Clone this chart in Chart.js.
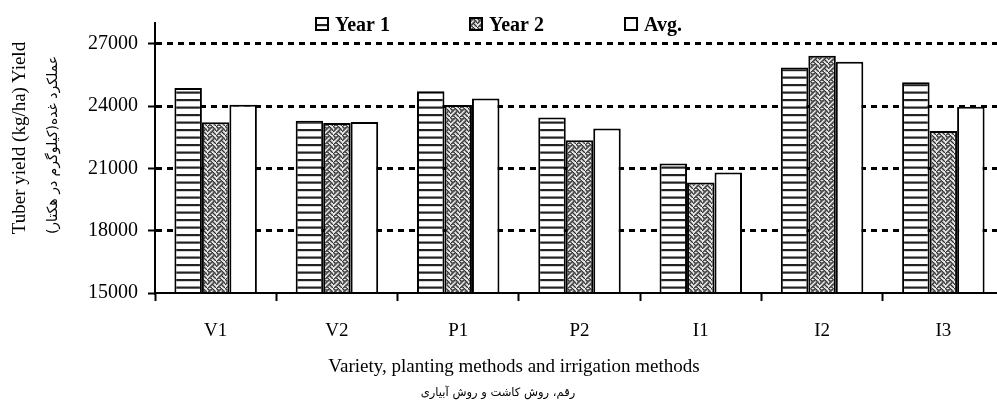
<!DOCTYPE html>
<html>
<head>
<meta charset="utf-8">
<script src="https://cdn.jsdelivr.net/npm/chart.js@4"></script>
<style>
  body { margin: 0; overflow: hidden; background: #fff; }
  #wrap { position: relative; width: 1010px; height: 408px; }
  .lbl { position: absolute; white-space: nowrap; color: #000; transform: translate(-50%, -50%); }
  .en { font-family: "Liberation Serif", serif; font-size: 19px; }
  .fa { font-family: "DejaVu Sans", sans-serif; font-size: 11.5px; direction: rtl; }
  .rot { transform: translate(-50%, -50%) rotate(-90deg); }
</style>
</head>
<body>
<div id="wrap">
  <canvas id="chart" width="1010" height="408"></canvas>
  <div class="lbl en rot" style="left:19px; top:138px;">Tuber yield (kg/ha) Yield</div>
  <div class="lbl fa rot" style="left:52px; top:145px; font-size:14px;">عملکرد غده(کیلوگرم در هکتار)</div>
  <div class="lbl en" style="left:514px; top:366px;">Variety, planting methods and irrigation methods</div>
  <div class="lbl fa" style="left:498px; top:392px;">رقم، روش کاشت و روش آبیاری</div>
</div>
<script>
// data
const categories = ['V1', 'V2', 'P1', 'P2', 'I1', 'I2', 'I3'];
const year1 = [24870, 23290, 24710, 23450, 21230, 25860, 25150];
const year2 = [23220, 23180, 24050, 22350, 20320, 26420, 22800];
const avg = [24060, 23230, 24360, 22920, 20800, 26140, 23970];
const yTicks = [15000, 18000, 21000, 24000, 27000];

const ctx = document.getElementById('chart').getContext('2d');

// horizontal stripes for Year 1
function stripePattern() {
    const c = document.createElement('canvas');
    c.width = 4; c.height = 15;
    const g = c.getContext('2d');
    g.fillStyle = '#fff';
    g.fillRect(0, 0, 4, 15);
    g.fillStyle = '#222';
    g.fillRect(0, 1.5, 4, 2.2);
    g.fillRect(0, 9, 4, 2.2);
    return ctx.createPattern(c, 'repeat');
}

// weave pattern for Year 2
function weavePattern() {
    const bits = [0x88, 0x54, 0x22, 0x45, 0x88, 0x14, 0x22, 0x51];
    const s = 1.15;
    const size = Math.round(8 * s);
    const c = document.createElement('canvas');
    c.width = size; c.height = size;
    const g = c.getContext('2d');
    g.fillStyle = '#eee';
    g.fillRect(0, 0, size, size);
    g.fillStyle = '#333';
    bits.forEach((b, row) => {
        for (let col = 0; col < 8; col++) {
            if (b & (0x80 >> col)) g.fillRect(col * s - 0.2, row * s - 0.2, s + 0.5, s + 0.5);
        }
    });
    return ctx.createPattern(c, 'repeat');
}

// legend drawn inside the plot, with the bar fills as swatches
const boxLegend = {
    id: 'boxLegend',
    afterDraw(chart, args, opts) {
        const c = chart.ctx;
        chart.data.datasets.forEach((ds, i) => {
            const x = opts.x[i];
            c.save();
            c.fillStyle = ds.backgroundColor;
            c.fillRect(x, opts.y - 13, 12, 12);
            c.lineWidth = 2;
            c.strokeStyle = '#000';
            c.strokeRect(x, opts.y - 13, 12, 12);
            c.font = 'bold 20px "Liberation Serif"';
            c.fillStyle = '#000';
            c.textBaseline = 'alphabetic';
            c.fillText(ds.label, x + 19, opts.y);
            c.restore();
        });
    }
};

new Chart(ctx, {
    type: 'bar',
    data: {
        labels: categories,
        datasets: [
            { label: 'Year 1', data: year1, backgroundColor: stripePattern() },
            { label: 'Year 2', data: year2, backgroundColor: weavePattern() },
            { label: 'Avg.', data: avg, backgroundColor: '#fff' },
        ],
    },
    plugins: [boxLegend],
    options: {
        responsive: false,
        animation: false,
        devicePixelRatio: 1,
        layout: { padding: { top: 23, right: 6, left: 0, bottom: 0 } },
        datasets: {
            bar: {
                borderColor: '#000',
                borderWidth: 2,
                categoryPercentage: 0.68,
                barPercentage: 1.0,
            },
        },
        plugins: {
            legend: { display: false },
            tooltip: { enabled: false },
            boxLegend: { x: [316, 470, 625], y: 31 },
        },
        scales: {
            x: {
                offset: true,
                afterFit: s => { s.height = 115; },
                grid: {
                    offset: true,
                    drawOnChartArea: false,
                    tickLength: 8,
                    tickColor: '#000',
                    tickWidth: 2,
                },
                border: { color: '#000', width: 2, z: 1 },
                ticks: {
                    color: '#000',
                    padding: 19,
                    font: { family: 'Liberation Serif', size: 19 },
                },
            },
            y: {
                min: 15000,
                max: 28000,
                afterBuildTicks: s => { s.ticks = yTicks.map(v => ({ value: v })); },
                afterFit: s => { s.width = 155; },
                grid: {
                    color: c => (c.tick && c.tick.value === 15000 ? 'rgba(0,0,0,0)' : '#000'),
                    lineWidth: 3,
                    tickLength: 7,
                    tickColor: '#000',
                    tickWidth: 2,
                    tickBorderDash: [],
                },
                border: { color: '#000', width: 2, dash: [6, 5], z: 1 },
                ticks: {
                    color: '#000',
                    padding: 10,
                    font: { family: 'Liberation Serif', size: 20 },
                    callback: v => String(v),
                },
            },
        },
    },
});
</script>
</body>
</html>
